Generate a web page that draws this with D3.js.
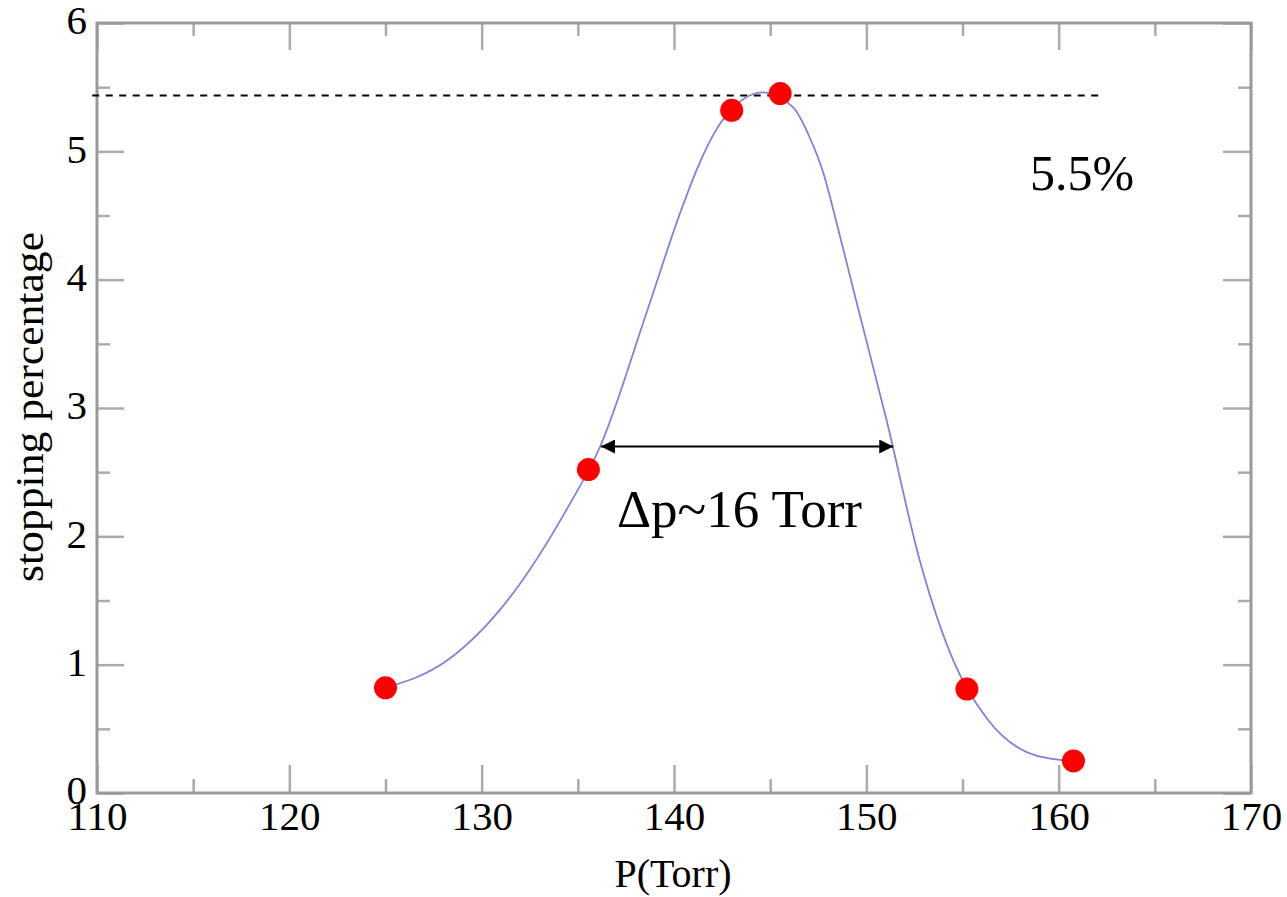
<!DOCTYPE html>
<html>
<head>
<meta charset="utf-8">
<script src="https://cdn.jsdelivr.net/npm/d3@7"></script>
<style>
  body { margin: 0; background: #fff; }
  svg { display: block; }
  text { font-family: "Liberation Serif", "Times New Roman", serif; fill: #000; }
</style>
</head>
<body>
<svg id="chart" width="1287" height="897"></svg>
<script>
const width = 1287;
const height = 897;
const margin = { top: 23, right: 36, bottom: 104, left: 97 };

// measured points
const pressure = [125.0, 135.55, 143.0, 145.52, 155.23, 160.77];
const stopping = [0.82, 2.52, 5.32, 5.45, 0.81, 0.25];

// fitted curve
const curveP = [125.0, 128.18, 131.65, 134.42, 136.16, 138.59, 140.32, 141.19, 142.05, 143.0, 144.65,
    146.21, 147.08, 147.77, 148.46, 149.33, 151.06, 152.8, 154.53, 156.27, 158.87, 160.77];
const curveVal = [0.82, 1.03, 1.56, 2.21, 2.70, 3.75, 4.52, 4.86, 5.13, 5.33, 5.46,
    5.34, 5.10, 4.83, 4.44, 3.92, 2.90, 1.80, 1.03, 0.58, 0.29, 0.25];

// axes
const xTicks = [110, 120, 130, 140, 150, 160, 170];
const xMinor = [115, 125, 135, 145, 155, 165];
const yTicks = [0, 1, 2, 3, 4, 5, 6];
const yMinor = [0.5, 1.5, 2.5, 3.5, 4.5, 5.5];

// annotations
const peakLine = { from: 109.75, to: 162.25, value: 5.435 };
const arrowP = [136.2, 151.4];
const arrowVal = 2.70;

const svg = d3.select("#chart");

const x = d3.scaleLinear()
    .domain([110, 170])
    .range([margin.left, width - margin.right]);

const y = d3.scaleLinear()
    .domain([0, 6])
    .range([height - margin.bottom, margin.top]);

const tickColor = "#ababab";

function styleAxis(g) {
    g.select(".domain").remove();
    g.selectAll(".tick line").attr("stroke", tickColor).attr("stroke-width", 2.5);
    g.selectAll(".tick text")
        .style("font-family", "'Liberation Serif', 'Times New Roman', serif")
        .attr("font-size", 41)
        .attr("fill", "#000");
}

// bottom
svg.append("g")
    .attr("transform", `translate(0,${y(0)})`)
    .call(d3.axisBottom(x).tickValues(xTicks).tickFormat(d3.format("d"))
        .tickSizeInner(-28).tickSizeOuter(0).tickPadding(8))
    .call(styleAxis);
svg.append("g")
    .attr("transform", `translate(0,${y(0)})`)
    .call(d3.axisBottom(x).tickValues(xMinor).tickFormat("").tickSizeInner(-14).tickSizeOuter(0))
    .call(styleAxis);

// top
svg.append("g")
    .attr("transform", `translate(0,${y(6)})`)
    .call(d3.axisTop(x).tickValues(xTicks).tickFormat("").tickSizeInner(-27).tickSizeOuter(0))
    .call(styleAxis);
svg.append("g")
    .attr("transform", `translate(0,${y(6)})`)
    .call(d3.axisTop(x).tickValues(xMinor).tickFormat("").tickSizeInner(-13).tickSizeOuter(0))
    .call(styleAxis);

// left
svg.append("g")
    .attr("transform", `translate(${x(110)},0)`)
    .call(d3.axisLeft(y).tickValues(yTicks).tickFormat(d3.format("d"))
        .tickSizeInner(-27).tickSizeOuter(0).tickPadding(10))
    .call(styleAxis)
    .call(g => g.selectAll(".tick text").attr("dy", "0.26em"));
svg.append("g")
    .attr("transform", `translate(${x(110)},0)`)
    .call(d3.axisLeft(y).tickValues(yMinor).tickFormat("").tickSizeInner(-13).tickSizeOuter(0))
    .call(styleAxis);

// right
svg.append("g")
    .attr("transform", `translate(${x(170)},0)`)
    .call(d3.axisRight(y).tickValues(yTicks).tickFormat("").tickSizeInner(-28).tickSizeOuter(0))
    .call(styleAxis);
svg.append("g")
    .attr("transform", `translate(${x(170)},0)`)
    .call(d3.axisRight(y).tickValues(yMinor).tickFormat("").tickSizeInner(-13).tickSizeOuter(0))
    .call(styleAxis);

// frame
svg.append("rect")
    .attr("x", x(110))
    .attr("y", y(6))
    .attr("width", x(170) - x(110))
    .attr("height", y(0) - y(6))
    .attr("fill", "none")
    .attr("stroke", "#9a9a9a")
    .attr("stroke-width", 3);

// dashed peak level
svg.append("line")
    .attr("x1", x(peakLine.from))
    .attr("x2", x(peakLine.to))
    .attr("y1", y(peakLine.value))
    .attr("y2", y(peakLine.value))
    .attr("stroke", "#000")
    .attr("stroke-width", 2)
    .attr("stroke-dasharray", "7,6.5");

// fitted curve
const curveData = curveP.map((p, i) => ({ p, v: curveVal[i] }));
const line = d3.line()
    .x(d => x(d.p))
    .y(d => y(d.v))
    .curve(d3.curveMonotoneX);

svg.append("path")
    .datum(curveData)
    .attr("fill", "none")
    .attr("stroke", "#8080e0")
    .attr("stroke-width", 1.8)
    .attr("d", line);

// points
svg.selectAll(".dot")
    .data(pressure.map((p, i) => ({ p, v: stopping[i] })))
    .enter()
    .append("circle")
    .attr("class", "dot")
    .attr("cx", d => x(d.p))
    .attr("cy", d => y(d.v))
    .attr("r", 11.5)
    .attr("fill", "#ff0000");

// width arrow
const defs = svg.append("defs");
defs.append("marker")
    .attr("id", "head")
    .attr("viewBox", "0 0 10 10")
    .attr("refX", 10)
    .attr("refY", 5)
    .attr("markerUnits", "userSpaceOnUse")
    .attr("markerWidth", 16)
    .attr("markerHeight", 14)
    .attr("orient", "auto-start-reverse")
    .append("path")
    .attr("d", "M0,0 L10,5 L0,10 Z")
    .attr("fill", "#000");

svg.append("line")
    .attr("x1", x(arrowP[0]))
    .attr("x2", x(arrowP[1]))
    .attr("y1", y(arrowVal))
    .attr("y2", y(arrowVal))
    .attr("stroke", "#000")
    .attr("stroke-width", 2)
    .attr("marker-start", "url(#head)")
    .attr("marker-end", "url(#head)");

svg.append("text")
    .attr("x", 617)
    .attr("y", 527)
    .attr("font-size", 53)
    .text("\u0394p~16 Torr");

svg.append("text")
    .attr("x", 1030)
    .attr("y", 190)
    .attr("font-size", 50)
    .text("5.5%");

// axis labels
svg.append("text")
    .attr("x", 673)
    .attr("y", 887)
    .attr("text-anchor", "middle")
    .attr("font-size", 40)
    .text("P(Torr)");

svg.append("text")
    .attr("transform", `translate(43,${407}) rotate(-90)`)
    .attr("text-anchor", "middle")
    .attr("font-size", 40)
    .attr("textLength", 350)
    .attr("lengthAdjust", "spacingAndGlyphs")
    .text("stopping percentage");
</script>
</body>
</html>
